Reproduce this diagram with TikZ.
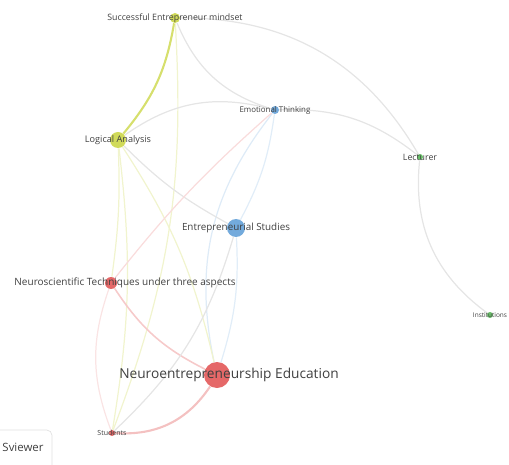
\documentclass[tikz,border=0pt]{standalone}
\usepackage{fontspec}
\setmainfont{Open Sans}
\usetikzlibrary{backgrounds}
\definecolor{clyellow}{HTML}{C8D43C}
\definecolor{clblue}{HTML}{5A9BD6}
\definecolor{clred}{HTML}{E04E4E}
\definecolor{clgreen}{HTML}{4FB34F}
\tikzset{
  x=0.02cm, y=-0.02cm,
  item/.style={circle, inner sep=0pt, minimum size=#1*0.02cm, opacity=0.85},
  lbl/.style={text=black!75, inner sep=0pt, font=\fontsize{#1}{#1}\selectfont},
  link/.style={draw=#1, line width=0.7pt},
  link/.default=black!10,
}

\begin{document}
\begin{tikzpicture}
  \useasboundingbox (0,0) rectangle (509,465);

  % items
  \node[item=10, fill=clyellow] (c-sem) at (175,18) {};
  \node[item=16, fill=clyellow] (c-la) at (118,140) {};
  \node[item=8, fill=clblue] (c-et) at (275,110) {};
  \node[item=18, fill=clblue] (c-es) at (236,228) {};
  \node[item=12, fill=clred] (c-nt) at (111,283) {};
  \node[item=26, fill=clred] (c-ne) at (217,375) {};
  \node[item=6, fill=clred] (c-st) at (112,433) {};
  \node[item=6, fill=clgreen] (c-lec) at (420,157) {};
  \node[item=6, fill=clgreen] (c-ins) at (490,315) {};

  % links
  \begin{scope}[on background layer]
    \draw[link=clyellow!75, line width=1.2pt] (c-sem) to[bend left=15] (c-la);
    \draw[link] (c-sem) to[bend right=25] (c-et);
    \draw[link] (c-sem) to[bend left=30] (c-lec);
    \draw[link=clyellow!25] (c-sem) to[bend left=12] (c-st);
    \draw[link] (c-la) to[bend left=25] (c-et);
    \draw[link] (c-et) to[bend left=20] (c-lec);
    \draw[link=clblue!20] (c-et) to[bend right=25] (c-ne);
    \draw[link] (c-lec) to[bend right=30] (c-ins);
    \draw[link] (c-la) to[bend right=8] (c-es);
    \draw[link=clyellow!25] (c-la) to[bend left=5] (c-nt);
    \draw[link=clyellow!25] (c-la) to[bend left=10] (c-ne);
    \draw[link=clyellow!25] (c-la) to[bend left=8] (c-st);
    \draw[link=clred!20] (c-nt) to[bend left=5] (c-et);
    \draw[link=clred!30, line width=0.9pt] (c-nt) to[bend right=15] (c-ne);
    \draw[link=clred!15] (c-nt) to[bend right=20] (c-st);
    \draw[link=clred!35, line width=1.2pt] (c-ne) to[bend left=30] (c-st);
    \draw[link=clblue!18] (c-es) to[bend left=10] (c-ne);
    \draw[link=clblue!18] (c-es) to[bend right=10] (c-et);
    \draw[link] (c-es) to[bend left=15] (c-st);
  \end{scope}

  % labels
  \node[lbl=5] (sem) at (c-sem) {Successful Entrepreneur mindset};
  \node[lbl=5.2] (la) at (c-la) {Logical Analysis};
  \node[lbl=4.5] (et) at (c-et) {Emotional Thinking};
  \node[lbl=5.6] (es) at (c-es) {Entrepreneurial Studies};
  \node[lbl=5.7] (nt) at (125,283) {Neuroscientific Techniques under three aspects};
  \node[lbl=7.8] (ne) at (229,375) {Neuroentrepreneurship Education};
  \node[lbl=4] (st) at (c-st) {Students};
  \node[lbl=5] (lec) at (c-lec) {Lecturer};
  \node[lbl=3.7] (ins) at (c-ins) {Institutions};

  % logo box
  \draw[draw=black!12, rounded corners=3pt] (-20,430) rectangle (52,480);
  \node[lbl=6.5] (logo) at (23,447) {Sviewer};
\end{tikzpicture}
\end{document}
